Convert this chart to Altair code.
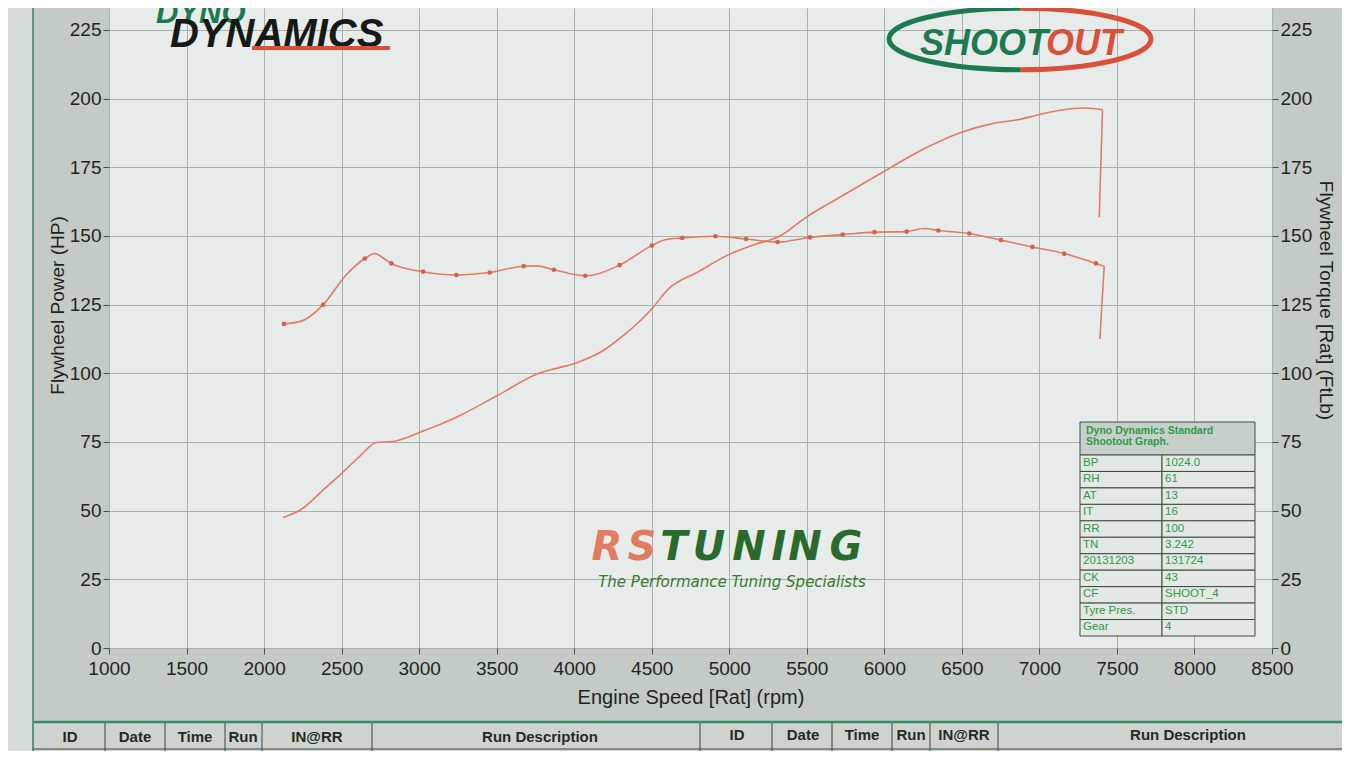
import altair as alt
import pandas as pd

# ---------------- data read from the dyno sheet ----------------
power_rpm = [2123, 2241, 2381, 2499, 2617, 2725, 2832, 3010, 3240, 3513, 3777, 3885, 4013,
             4185, 4314, 4507, 4600, 4800, 5001, 5160, 5323, 5495, 5710, 5995, 6269, 6494,
             6698, 6870, 6999, 7214, 7300, 7407, 7386]
power_hp = [47.5, 50.5, 57.5, 63.5, 69.8, 74.8, 75.2, 78.6, 84.0, 92.2, 100.1, 101.8, 103.8,
            108.2, 113.6, 123.9, 130.3, 137.0, 143.3, 146.8, 149.9, 156.8, 164.0, 173.4, 182.1,
            187.7, 190.9, 192.4, 194.2, 196.4, 196.6, 196.0, 156.8]

torque_rpm = [2128, 2242, 2381, 2532, 2650, 2714, 2768, 2821, 3025, 3240, 3455, 3674, 3756,
              3869, 4071, 4293, 4501, 4593, 4696, 4911, 5108, 5312, 5521, 5731, 5936, 6144,
              6258, 6348, 6548, 6752, 6955, 7160, 7364, 7418, 7390]
torque_ftlb = [118.0, 119.0, 125.0, 136.0, 141.8, 143.6, 142.0, 140.0, 137.0, 135.8, 136.7,
               139.0, 139.1, 137.7, 135.5, 139.4, 146.5, 148.7, 149.3, 149.9, 148.9, 147.8,
               149.5, 150.5, 151.4, 151.6, 152.7, 152.0, 150.9, 148.5, 146.0, 143.6, 140.0,
               139.0, 112.5]
torque_dot = [1, 0, 1, 0, 1, 0, 0, 1, 1, 1, 1, 1, 0, 1, 1, 1, 1, 0, 1, 1, 1, 1, 1, 1, 1, 1,
              0, 1, 1, 1, 1, 1, 1, 0, 0]

x_ticks = list(range(1000, 8501, 500))
y_ticks = list(range(0, 226, 25))

info_title = ["Dyno Dynamics Standard", "Shootout Graph."]
info_keys = ["BP", "RH", "AT", "IT", "RR", "TN", "20131203", "CK", "CF", "Tyre Pres.", "Gear"]
info_vals = ["1024.0", "61", "13", "16", "100", "3.242", "131724", "43", "SHOOT_4", "STD", "4"]

table_headers = ["ID", "Date", "Time", "Run", "IN@RR", "Run Description"]

# ---------------- layout ----------------
W, H = 1163, 640
OX, OY = 109, 8            # page position of the plot origin


def px(x):
    return x - OX


def py(y):
    return y - OY


FONT = "Liberation Sans"
INK = "#1e261e"
CURVE = "#e27b62"
GRID = "#a9b1ad"
one = pd.DataFrame({"a": [0]})


def txt(text, x, y, size, color, weight="normal", style="normal", align="center",
        baseline="middle", font=FONT):
    return alt.Chart(one).mark_text(
        text=text, fontSize=size, color=color, fontWeight=weight, fontStyle=style,
        align=align, baseline=baseline, font=font, clip=False
    ).encode(x=alt.value(px(x)), y=alt.value(py(y)))


def rule(x1, y1, x2, y2, color, width):
    return alt.Chart(one).mark_rule(color=color, strokeWidth=width, clip=False).encode(
        x=alt.value(px(x1)), x2=alt.value(px(x2)), y=alt.value(py(y1)), y2=alt.value(py(y2)))


def rect(x1, y1, x2, y2, color):
    return alt.Chart(one).mark_rect(color=color, clip=False).encode(
        x=alt.value(px(x1)), x2=alt.value(px(x2)), y=alt.value(py(y1)), y2=alt.value(py(y2)))


xscale = alt.Scale(domain=[1000, 8500], nice=False, zero=False)
yscale = alt.Scale(domain=[0, 233], nice=False)

pdf = pd.DataFrame({"rpm": power_rpm, "hp": power_hp, "i": range(len(power_rpm))})
tdf = pd.DataFrame({"rpm": torque_rpm, "tq": torque_ftlb, "dot": torque_dot,
                    "i": range(len(torque_rpm))})
n_p = len(power_rpm)
n_t = len(torque_rpm)

power = alt.Chart(pdf).transform_filter(f"datum.i < {n_p - 1}").mark_line(
    color=CURVE, strokeWidth=1.6, clip=False, interpolate="monotone").encode(
    x=alt.X("rpm:Q", scale=xscale, axis=alt.Axis(
        values=x_ticks, format="d", grid=True, gridColor=GRID, gridWidth=1, domain=False,
        tickSize=6, tickColor="#4a4f4a", labelFont=FONT, labelFontSize=19, labelColor=INK,
        labelPadding=5, labelFlush=False, labelOverlap=False,
        title="Engine Speed [Rat] (rpm)", titleFont=FONT, titleFontSize=20,
        titleFontWeight="normal", titleColor=INK, titleY=49, titleBaseline="middle")),
    y=alt.Y("hp:Q", scale=yscale, axis=alt.Axis(
        orient="left", values=y_ticks, grid=True, gridColor=GRID, gridWidth=1, domain=False,
        tickSize=6, tickColor="#4a4f4a", labelFont=FONT, labelFontSize=19, labelColor=INK,
        labelPadding=2, labelFlush=False, labelOverlap=False,
        title="Flywheel Power (HP)", titleFont=FONT, titleFontSize=19,
        titleFontWeight="normal", titleColor=INK, titleAngle=270, titleX=-52, titleY=297,
        titleBaseline="middle", titleAlign="center")),
    order="i:Q",
)
power_drop = alt.Chart(pdf).transform_filter(f"datum.i >= {n_p - 2}").mark_line(
    color=CURVE, strokeWidth=1.6, clip=False).encode(
    x=alt.X("rpm:Q", scale=xscale, axis=None),
    y=alt.Y("hp:Q", scale=yscale, axis=None),
    order="i:Q",
)

torque = alt.Chart(tdf).transform_filter(f"datum.i < {n_t - 1}").mark_line(
    color=CURVE, strokeWidth=1.6, clip=False, interpolate="monotone").encode(
    x=alt.X("rpm:Q", scale=xscale, axis=None),
    y=alt.Y("tq:Q", scale=yscale, axis=alt.Axis(
        orient="right", values=y_ticks, grid=False, domain=False,
        tickSize=6, tickColor="#4a4f4a", labelFont=FONT, labelFontSize=19, labelColor=INK,
        labelPadding=2, labelFlush=False, labelOverlap=False,
        title="Flywheel Torque [Rat] (FtLb)", titleFont=FONT, titleFontSize=19,
        titleFontWeight="normal", titleColor=INK, titleAngle=90, titleX=53, titleY=292,
        titleBaseline="middle", titleAlign="center")),
    order="i:Q",
)
torque_drop = alt.Chart(tdf).transform_filter(f"datum.i >= {n_t - 2}").mark_line(
    color=CURVE, strokeWidth=1.6, clip=False).encode(
    x=alt.X("rpm:Q", scale=xscale, axis=None),
    y=alt.Y("tq:Q", scale=yscale, axis=None),
    order="i:Q",
)

dots = alt.Chart(tdf).transform_filter("datum.dot == 1").mark_circle(
    color="#d9614a", size=22, opacity=1).encode(
    x=alt.X("rpm:Q", scale=xscale, axis=None),
    y=alt.Y("tq:Q", scale=yscale, axis=None),
)

layers = []

# page decorations outside the plot
layers.append(rect(8, 8, 33, 800, "#d6dbda"))
layers.append(rect(33, 723, 1400, 800, "#ced4cd"))
layers.append(rule(33, 0, 33, 800, "#2d8a5c", 1.5))
layers.append(rule(33, 722, 1400, 722, "#2f8f62", 2.5))
layers.append(rule(33, 749, 1400, 749, "#3d443d", 1))
for xs in [105, 165, 225, 262, 372, 700, 772, 832, 892, 930, 998]:
    layers.append(rule(xs, 723, xs, 800, "#3d443d", 1))
left_centers = [70, 135, 195, 243, 317, 540]
right_centers = [737, 803, 862, 911, 964, 1188]
for h, cx in zip(table_headers, left_centers):
    layers.append(txt(h, cx, 737, 15, "#262a26", weight="bold"))
for h, cx in zip(table_headers, right_centers):
    layers.append(txt(h, cx, 735, 15, "#262a26", weight="bold"))

# DYNO DYNAMICS logo
layers.append(txt("DYNO", 156, 23, 31, "#1d7a4e", weight="bold", style="italic",
                  align="left", baseline="alphabetic"))
layers.append(txt("DYNAMICS", 170, 47, 40, "#161a16", weight="bold", style="italic",
                  align="left", baseline="alphabetic"))
layers.append(rule(252, 48, 390, 48, "#d9503a", 4))

# SHOOTOUT logo
ell_size = 262 ** 2
layers.append(alt.Chart(one).mark_point(
    shape="M 0 -0.235 A 1 0.235 0 0 0 0 0.235", size=ell_size, filled=False,
    color="#1d7a4e", strokeWidth=5, opacity=1, clip=False).encode(
    x=alt.value(px(1020)), y=alt.value(py(39))))
layers.append(alt.Chart(one).mark_point(
    shape="M 0 -0.235 A 1 0.235 0 0 1 0 0.235", size=ell_size, filled=False,
    color="#d9503a", strokeWidth=5, opacity=1, clip=False).encode(
    x=alt.value(px(1020)), y=alt.value(py(39))))
layers.append(txt("SHOOT", 1048, 55, 36, "#1d7a4e", weight="bold", style="italic",
                  align="right", baseline="alphabetic"))
layers.append(txt("OUT", 1046, 55, 36, "#d9503a", weight="bold", style="italic",
                  align="left", baseline="alphabetic"))

# RS TUNING logo
rs_letters = ["R", "S", "T", "U", "N", "I", "N", "G"]
rs_centers = [607, 642, 674, 709, 749, 779, 805, 846]
for i, (ch, cx) in enumerate(zip(rs_letters, rs_centers)):
    col = "#e07c62" if i < 2 else "#2a6a2c"
    layers.append(txt(ch, cx, 560, 40, col, weight="bold", style="italic",
                      baseline="alphabetic", font="DejaVu Sans"))
layers.append(txt("The Performance Tuning Specialists", 732, 582, 15, "#3b7a2e",
                  style="italic", font="DejaVu Sans"))

# info table
TX1, TX2, TXM = 1080, 1255, 1162
TY0, TY1 = 422, 455
ROWH = (636 - TY1) / len(info_keys)
cells = [dict(x1=px(TX1), x2=px(TX2), y1=py(TY0), y2=py(TY1), fill="#c7cfcb")]
keys_df = []
for i, (k, v) in enumerate(zip(info_keys, info_vals)):
    y1 = TY1 + i * ROWH
    cells.append(dict(x1=px(TX1), x2=px(TXM), y1=py(y1), y2=py(y1 + ROWH), fill="#e3e8e4"))
    cells.append(dict(x1=px(TXM), x2=px(TX2), y1=py(y1), y2=py(y1 + ROWH), fill="#e3e8e4"))
    keys_df.append(dict(x=px(TX1 + 3), y=py(y1 + ROWH / 2 - 0.5), t=k))
    keys_df.append(dict(x=px(TXM + 3), y=py(y1 + ROWH / 2 - 0.5), t=v))
cells_df = pd.DataFrame(cells)
layers.append(alt.Chart(cells_df).mark_rect(stroke="#3e4c3f", strokeWidth=1, clip=False).encode(
    x=alt.X("x1:Q", scale=None, axis=None), x2="x2:Q",
    y=alt.Y("y1:Q", scale=None, axis=None), y2="y2:Q",
    fill=alt.Fill("fill:N", scale=None, legend=None)))
layers.append(alt.Chart(pd.DataFrame(keys_df)).mark_text(
    font=FONT, fontSize=11.5, color="#2f9a48", align="left", baseline="middle",
    clip=False).encode(
    x=alt.X("x:Q", scale=None, axis=None), y=alt.Y("y:Q", scale=None, axis=None),
    text="t:N"))
layers.append(txt(info_title[0], 1086, 431, 10.5, "#2f9a48", weight="bold", align="left"))
layers.append(txt(info_title[1], 1086, 442, 10.5, "#2f9a48", weight="bold", align="left"))

chart = alt.layer(power, power_drop, torque, torque_drop, dots, *layers).resolve_scale(
    x="independent", y="independent"
).properties(
    width=W, height=H,
    autosize=alt.AutoSizeParams(type="none"),
    padding={"left": 101, "top": 0, "right": 70, "bottom": 103},
    background="#c4cac6",
).configure_view(fill="#e7eceb", strokeWidth=0)

chart.save("out.html", embed_options={"renderer": "svg", "actions": False})
